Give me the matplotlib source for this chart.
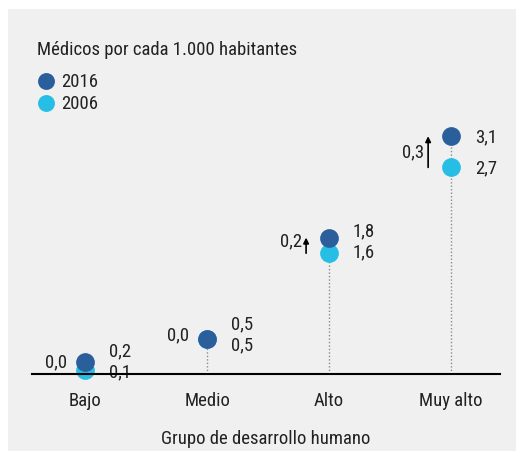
import numpy as np
import matplotlib.pyplot as plt
from matplotlib.patches import Rectangle

plt.rcParams['font.family'] = ['Roboto Condensed', 'DejaVu Sans']

groups = ["Bajo", "Medio", "Alto", "Muy alto"]
medicos_2016 = [0.2, 0.5, 1.8, 3.1]
medicos_2006 = [0.1, 0.5, 1.6, 2.7]
cambio = [0.0, 0.0, 0.2, 0.3]
labels_2016 = ["0,2", "0,5", "1,8", "3,1"]
labels_2006 = ["0,1", "0,5", "1,6", "2,7"]
labels_cambio = ["0,0", "0,0", "0,2", "0,3"]

dark_blue = "#2a5f9c"
light_blue = "#27bee6"
bg = "#f0f0f0"
text_col = "#222222"
fs = 13.5

W, H = 516, 452
fig = plt.figure(figsize=(W / 100, H / 100), dpi=100, facecolor="white")
fig.patches.append(Rectangle((8 / W, 0), 1, 1 - 10 / H, transform=fig.transFigure,
                             facecolor=bg, edgecolor="none", zorder=-10))

base_px, top_px = 375, 30
ax = fig.add_axes([32 / W, (H - base_px) / H, (500 - 32) / W, (base_px - top_px) / H])
ax.set_facecolor("none")

x = np.arange(len(groups))
px_per_unit = 78.0
x_shift = 23 / 121.7
ymin = 4 / px_per_unit
ax.set_xlim(-0.435, 3.4)
ax.set_ylim(ymin, ymin + (base_px - top_px) / px_per_unit)

# dotted stems from the baseline up to the 2016 dot
for xi, v in zip(x, medicos_2016):
    ax.plot([xi, xi], [ymin, v], color="#8a8a8a", lw=1, ls=(0, (1, 1.5)), zorder=1)

ax.scatter(x, medicos_2006, s=13.5 ** 2, color=light_blue, zorder=3, clip_on=False,
           linewidths=0, label="2006")
ax.scatter(x, medicos_2016, s=13.5 ** 2, color=dark_blue, zorder=4, clip_on=False,
           linewidths=0, label="2016")

# value labels, pushed apart when the dots sit close together
min_gap = 21 / px_per_unit
for xi, a, b, la, lb, c, lc in zip(x, medicos_2016, medicos_2006, labels_2016,
                                   labels_2006, cambio, labels_cambio):
    ya, yb = a, b
    if a - b < min_gap:
        mid = (a + b) / 2 + 5 / px_per_unit
        ya, yb = mid + min_gap / 2, mid - min_gap / 2
    ax.annotate(la, (xi, ya), xytext=(17, 0), textcoords="offset points",
                ha="left", va="center", fontsize=fs, color=text_col,
                annotation_clip=False)
    ax.annotate(lb, (xi, yb), xytext=(17, 0), textcoords="offset points",
                ha="left", va="center", fontsize=fs, color=text_col,
                annotation_clip=False)
    mid = (ya + yb) / 2
    if c > 0:
        ax.annotate("", xy=(xi - x_shift, a), xytext=(xi - x_shift, b),
                    arrowprops=dict(arrowstyle="-|>", color="black", lw=1.2,
                                    mutation_scale=8, shrinkA=0, shrinkB=0))
        ax.annotate(lc, (xi - x_shift, mid), xytext=(-3, 0), textcoords="offset points",
                    ha="right", va="center", fontsize=fs, color=text_col)
    else:
        ax.annotate(lc, (xi, mid), xytext=(-13, 0), textcoords="offset points",
                    ha="right", va="center", fontsize=fs, color=text_col,
                    annotation_clip=False)

for s in ["top", "right", "left"]:
    ax.spines[s].set_visible(False)
ax.spines["bottom"].set_linewidth(1.5)
ax.spines["bottom"].set_zorder(5)
ax.set_yticks([])
ax.set_xticks(x)
ax.set_xticklabels(groups, fontsize=fs, color=text_col)
ax.tick_params(axis="x", length=0, pad=12)
ax.set_xlabel("Grupo de desarrollo humano", fontsize=fs, color=text_col, labelpad=15)

# legend: title as plain text, entries below it
fig.text(37 / W, 1 - 50 / H, "Médicos por cada 1.000 habitantes", fontsize=fs,
         color=text_col, ha="left", va="center")
handles, lbls = ax.get_legend_handles_labels()
leg = ax.legend(handles[::-1], lbls[::-1], loc="upper left",
                bbox_to_anchor=(37 / W, 1 - 73 / H),
                bbox_transform=fig.transFigure, frameon=False,
                fontsize=fs, markerscale=0.9, handletextpad=0.3,
                handlelength=1.0, labelspacing=0.2, borderpad=0, borderaxespad=0)
for t in leg.get_texts():
    t.set_color(text_col)

fig.savefig("out.png", dpi=100, facecolor="white")
